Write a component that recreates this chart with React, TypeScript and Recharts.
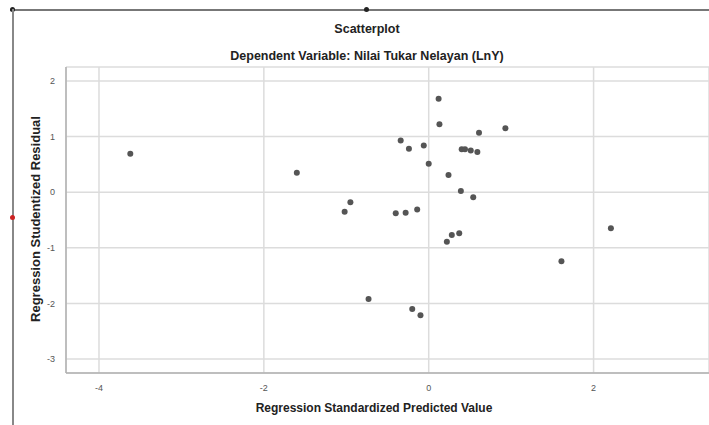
import React from 'react';
import { ScatterChart, Scatter, XAxis, YAxis, CartesianGrid } from 'recharts';

const predicted = [-3.62, -1.6, -0.95, -1.02, 0.12, 0.13, 0.61, 0.93, -0.34, -0.24, -0.06, 0.4, 0.44, 0.51, 0.59, 0.0, 0.24, 0.39, 0.54, -0.4, -0.28, -0.14, 0.37, 0.28, 0.22, -0.73, -0.2, -0.1, 2.21, 1.61];
const residual = [0.69, 0.35, -0.18, -0.35, 1.68, 1.22, 1.07, 1.15, 0.93, 0.78, 0.84, 0.77, 0.77, 0.75, 0.72, 0.51, 0.31, 0.02, -0.09, -0.38, -0.37, -0.31, -0.74, -0.77, -0.89, -1.92, -2.1, -2.21, -0.65, -1.24];
const xTicks = [-4, -2, 0, 2];
const yTicks = [-3, -2, -1, 0, 1, 2];

const data = predicted.map((x, i) => ({ x, y: residual[i] }));

const font = '"Liberation Sans", Arial, sans-serif';

export default function App() {
  return (
    <div style={{ position: 'fixed', left: 0, top: 0, width: 709, height: 425, overflow: 'hidden', background: '#fff', fontFamily: font }}>
      <div style={{ position: 'absolute', left: 0, top: 0 }}>
        <ScatterChart width={709} height={425} margin={{ top: 67, right: 0, bottom: 0, left: 0 }}>
          <CartesianGrid stroke="#dcdcdc" strokeWidth={1.5} />
          <XAxis
            type="number"
            dataKey="x"
            domain={[-4.4, 3.4]}
            ticks={xTicks}
            allowDataOverflow
            tickLine={false}
            axisLine={{ stroke: '#b0b0b0', strokeWidth: 1.5 }}
            tick={{ fontSize: 9, fill: '#555', fontFamily: font }}
            tickMargin={6}
            height={52}
          />
          <YAxis
            type="number"
            dataKey="y"
            domain={[-3.25, 2.25]}
            ticks={yTicks}
            allowDataOverflow
            tickLine={false}
            axisLine={{ stroke: '#b0b0b0', strokeWidth: 1.5 }}
            tick={{ fontSize: 9, fill: '#555', fontFamily: font }}
            tickMargin={5}
            width={66}
          />
          <Scatter data={data} fill="#555" isAnimationActive={false} shape={(p: any) => <circle cx={p.cx} cy={p.cy} r={3} fill="#555" />} />
        </ScatterChart>
      </div>
      <div style={{ position: 'absolute', left: 10, top: 9, width: 699, height: 2, background: '#777' }} />
      <div style={{ position: 'absolute', left: 10, top: 7, width: 5, height: 5, borderRadius: 3, background: '#222' }} />
      <div style={{ position: 'absolute', left: 364, top: 7, width: 5, height: 5, borderRadius: 3, background: '#222' }} />
      <div style={{ position: 'absolute', left: 12, top: 9, width: 2, height: 416, background: '#888' }} />
      <div style={{ position: 'absolute', left: 10, top: 215, width: 5, height: 5, borderRadius: 3, background: '#c22' }} />
      <div style={{ position: 'absolute', left: 0, top: 22, width: 734, textAlign: 'center', fontSize: 12.5, fontWeight: 'bold', color: '#222' }}>Scatterplot</div>
      <div style={{ position: 'absolute', left: 0, top: 49, width: 734, textAlign: 'center', fontSize: 12.5, fontWeight: 'bold', color: '#222' }}>Dependent Variable: Nilai Tukar Nelayan (LnY)</div>
      <div style={{ position: 'absolute', left: 0, top: 401, width: 748, textAlign: 'center', fontSize: 12, fontWeight: 'bold', color: '#222' }}>Regression Standardized Predicted Value</div>
      <div style={{ position: 'absolute', left: 35, top: 219, width: 0, height: 0 }}>
        <div style={{ position: 'absolute', left: 0, top: 0, transform: 'translate(-50%, -50%) rotate(-90deg)', whiteSpace: 'nowrap', fontSize: 13, fontWeight: 'bold', color: '#222' }}>Regression Studentized Residual</div>
      </div>
    </div>
  );
}
